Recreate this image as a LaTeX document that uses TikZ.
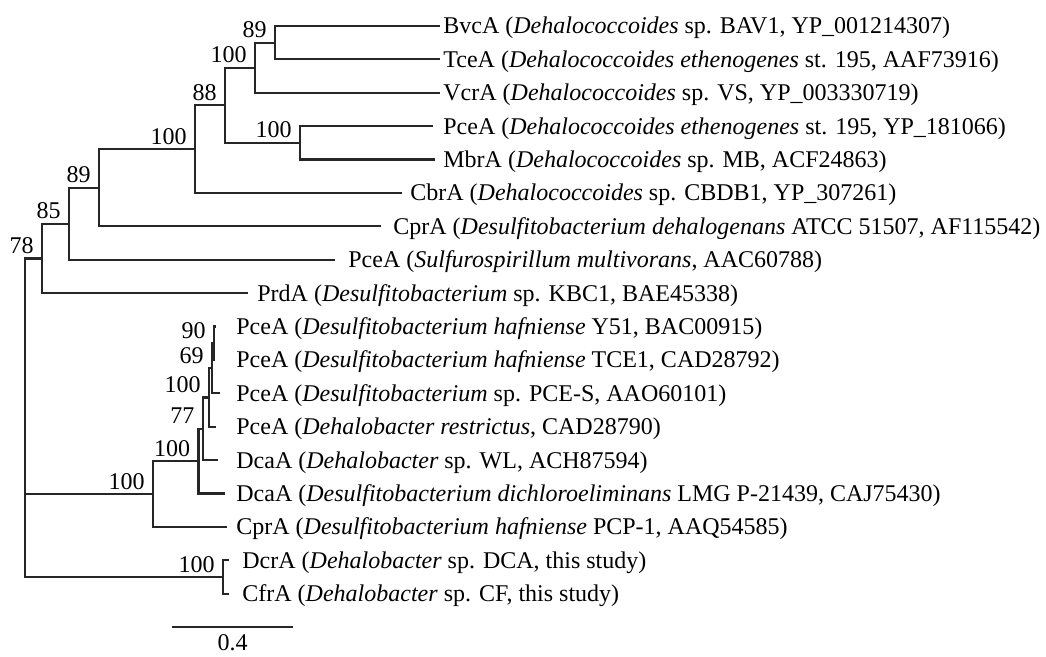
\documentclass[tikz,border=0pt]{standalone}
\usepackage{fontspec}
\setmainfont{Liberation Serif}
\tikzset{
	branch/.style={line width=1.1pt, color=black!85},
	boot/.style={anchor=base east, inner sep=0pt, xshift=-4pt, yshift=2.5pt},
	taxon/.style={anchor=base west, inner sep=0pt},
}
\begin{document}
\begin{tikzpicture}[x=0.5pt, y=-0.5pt, font=\fontsize{12}{14}\selectfont]
	\useasboundingbox (0,0) rectangle (1046,657);
	% inner nodes
	\coordinate (R) at (25, 418);
	\coordinate (N78) at (42, 258.5);
	\coordinate (N85) at (69, 223.8);
	\coordinate (N89) at (99, 187.8);
	\coordinate (N100a) at (195, 149.2);
	\coordinate (N88) at (225, 105.3);
	\coordinate (N100b) at (255, 67.75);
	\coordinate (N89b) at (275, 42.7);
	\coordinate (N100c) at (300, 142.9);
	\coordinate (N100f) at (153, 494.1);
	\coordinate (N100e) at (198.5, 461.2);
	\coordinate (N77) at (202.7, 428.9);
	\coordinate (N100d) at (209, 397.6);
	\coordinate (N69) at (212, 368.35);
	\coordinate (N90) at (214, 343.3);
	\coordinate (N100g) at (223, 577.1);
	
	% leaf ends
	\coordinate (E0) at (440, 26);
	\coordinate (E1) at (440, 59.4);
	\coordinate (E2) at (440, 92.8);
	\coordinate (E3) at (433, 126.2);
	\coordinate (E4) at (435, 159.6);
	\coordinate (E5) at (402, 193);
	\coordinate (E6) at (381, 226.4);
	\coordinate (E7) at (335, 259.8);
	\coordinate (E8) at (248, 293.2);
	\coordinate (E9) at (216, 326.6);
	\coordinate (E10) at (215, 360);
	\coordinate (E11) at (220, 393.4);
	\coordinate (E12) at (216, 426.8);
	\coordinate (E13) at (218, 460.2);
	\coordinate (E14) at (225, 493.6);
	\coordinate (E15) at (227, 527);
	\coordinate (E16) at (229, 560.4);
	\coordinate (E17) at (229, 593.8);
	
	% branches
	\draw [branch] (R) |- (N78);
	\draw [branch] (R) |- (N100f);
	\draw [branch] (R) |- (N100g);
	\draw [branch] (N78) |- (N85);
	\draw [branch] (N78) |- (E8);
	\draw [branch] (N85) |- (N89);
	\draw [branch] (N85) |- (E7);
	\draw [branch] (N89) |- (N100a);
	\draw [branch] (N89) |- (E6);
	\draw [branch] (N100a) |- (N88);
	\draw [branch] (N100a) |- (E5);
	\draw [branch] (N88) |- (N100b);
	\draw [branch] (N88) |- (N100c);
	\draw [branch] (N100b) |- (N89b);
	\draw [branch] (N100b) |- (E2);
	\draw [branch] (N89b) |- (E0);
	\draw [branch] (N89b) |- (E1);
	\draw [branch] (N100c) |- (E3);
	\draw [branch] (N100c) |- (E4);
	\draw [branch] (N100f) |- (N100e);
	\draw [branch] (N100f) |- (E15);
	\draw [branch] (N100e) |- (N77);
	\draw [branch] (N100e) |- (E14);
	\draw [branch] (N77) |- (N100d);
	\draw [branch] (N77) |- (E13);
	\draw [branch] (N100d) |- (N69);
	\draw [branch] (N100d) |- (E12);
	\draw [branch] (N69) |- (N90);
	\draw [branch] (N69) |- (E11);
	\draw [branch] (N90) |- (E9);
	\draw [branch] (N90) |- (E10);
	\draw [branch] (N100g) |- (E16);
	\draw [branch] (N100g) |- (E17);
	
	% bootstrap values
	\node [boot] (B78) at (N78) {78};
	\node [boot] (B85) at (N85) {85};
	\node [boot] (B89) at (N89) {89};
	\node [boot] (B100a) at (N100a) {100};
	\node [boot] (B88) at (N88) {88};
	\node [boot] (B100b) at (N100b) {100};
	\node [boot] (B89b) at (N89b) {89};
	\node [boot] (B100c) at (N100c) {100};
	\node [boot] (B100f) at (N100f) {100};
	\node [boot] (B100e) at (N100e) {100};
	\node [boot] (B77) at (N77) {77};
	\node [boot] (B100d) at (N100d) {100};
	\node [boot] (B69) at (N69) {69};
	\node [boot] (B90) at (N90) {90};
	\node [boot] (B100g) at (N100g) {100};
	
	% taxa
	\node [taxon] (T0) at (443, 34) {BvcA (\textit{Dehalococcoides} sp. BAV1, YP\_001214307)};
	\node [taxon] (T1) at (443, 67.4) {TceA (\textit{Dehalococcoides ethenogenes} st. 195, AAF73916)};
	\node [taxon] (T2) at (443, 100.8) {VcrA (\textit{Dehalococcoides} sp. VS, YP\_003330719)};
	\node [taxon] (T3) at (443, 134.2) {PceA (\textit{Dehalococcoides ethenogenes} st. 195, YP\_181066)};
	\node [taxon] (T4) at (443, 167.6) {MbrA (\textit{Dehalococcoides} sp. MB, ACF24863)};
	\node [taxon] (T5) at (410, 201) {CbrA (\textit{Dehalococcoides} sp. CBDB1, YP\_307261)};
	\node [taxon] (T6) at (393, 234.4) {CprA (\textit{Desulfitobacterium dehalogenans} ATCC 51507, AF115542)};
	\node [taxon] (T7) at (348, 267.8) {PceA (\textit{Sulfurospirillum multivorans}, AAC60788)};
	\node [taxon] (T8) at (257, 301.2) {PrdA (\textit{Desulfitobacterium} sp. KBC1, BAE45338)};
	\node [taxon] (T9) at (236, 334.6) {PceA (\textit{Desulfitobacterium hafniense} Y51, BAC00915)};
	\node [taxon] (T10) at (236, 368) {PceA (\textit{Desulfitobacterium hafniense} TCE1, CAD28792)};
	\node [taxon] (T11) at (236, 401.4) {PceA (\textit{Desulfitobacterium} sp. PCE-S, AAO60101)};
	\node [taxon] (T12) at (236, 434.8) {PceA (\textit{Dehalobacter restrictus}, CAD28790)};
	\node [taxon] (T13) at (236, 468.2) {DcaA (\textit{Dehalobacter} sp. WL, ACH87594)};
	\node [taxon] (T14) at (236, 501.6) {DcaA (\textit{Desulfitobacterium dichloroeliminans} LMG P-21439, CAJ75430)};
	\node [taxon] (T15) at (236, 535) {CprA (\textit{Desulfitobacterium hafniense} PCP-1, AAQ54585)};
	\node [taxon] (T16) at (242, 568.4) {DcrA (\textit{Dehalobacter} sp. DCA, this study)};
	\node [taxon] (T17) at (242, 601.8) {CfrA (\textit{Dehalobacter} sp. CF, this study)};
	
	% scale bar
	\coordinate (S1) at (172, 627);
	\coordinate (S2) at (293, 627);
	\draw [branch] (S1) -- (S2);
	\node [anchor=base, inner sep=0pt] (SL) at (232.5, 651) {0.4};
\end{tikzpicture}
\end{document}
